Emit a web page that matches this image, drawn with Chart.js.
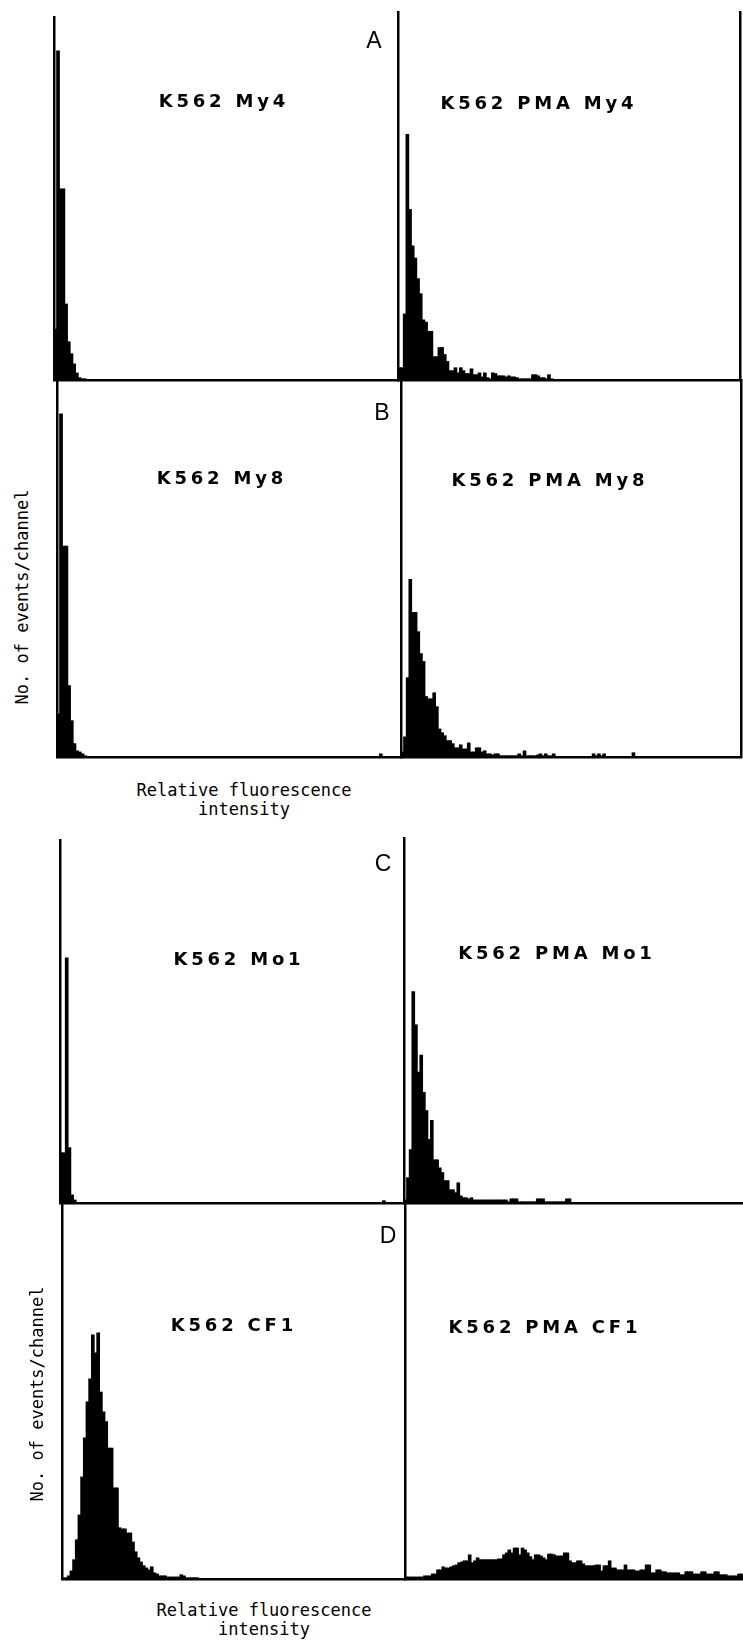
<!DOCTYPE html>
<html>
<head>
<meta charset="utf-8">
<script src="https://cdn.jsdelivr.net/npm/chart.js@4.4.1/dist/chart.umd.min.js"></script>
<style>
html,body{margin:0;padding:0;background:#fff;}
#fig{position:relative;width:743px;height:1646px;overflow:hidden;background:#fff;}
.panel{position:absolute;}
.lbl{position:absolute;white-space:nowrap;transform:translate(-50%,-50%);line-height:1;color:#000;z-index:5;}
.title{font-family:"DejaVu Sans",sans-serif;font-weight:bold;font-size:18px;letter-spacing:3.8px;padding-left:3.8px;}
.letter{font-family:"Liberation Sans",Arial,sans-serif;font-size:23px;}
.axis{font-family:"DejaVu Sans Mono",monospace;font-size:17px;text-align:center;line-height:19px;}
.ylab{font-family:"DejaVu Sans Mono",monospace;font-size:17px;transform:translate(-50%,-50%) rotate(-90deg);}
</style>
</head>
<body>
<div id="fig">
  <div class="panel" id="pA1"><canvas id="cA1"></canvas></div>
  <div class="panel" id="pA2"><canvas id="cA2"></canvas></div>
  <div class="panel" id="pB1"><canvas id="cB1"></canvas></div>
  <div class="panel" id="pB2"><canvas id="cB2"></canvas></div>
  <div class="panel" id="pC1"><canvas id="cC1"></canvas></div>
  <div class="panel" id="pC2"><canvas id="cC2"></canvas></div>
  <div class="panel" id="pD1"><canvas id="cD1"></canvas></div>
  <div class="panel" id="pD2"><canvas id="cD2"></canvas></div>

  <div class="lbl letter" style="left:374px;top:40px;">A</div>
  <div class="lbl letter" style="left:382px;top:412px;">B</div>
  <div class="lbl letter" style="left:383px;top:863px;">C</div>
  <div class="lbl letter" style="left:388px;top:1235px;">D</div>

  <div class="lbl title" style="left:222px;top:101px;">K562 My4</div>
  <div class="lbl title" style="left:537px;top:103px;">K562 PMA My4</div>
  <div class="lbl title" style="left:220px;top:478px;">K562 My8</div>
  <div class="lbl title" style="left:548px;top:480px;">K562 PMA My8</div>
  <div class="lbl title" style="left:237px;top:959px;">K562 Mo1</div>
  <div class="lbl title" style="left:555px;top:953px;">K562 PMA Mo1</div>
  <div class="lbl title" style="left:232px;top:1325px;">K562 CF1</div>
  <div class="lbl title" style="left:543px;top:1327px;">K562 PMA CF1</div>

  <div class="lbl ylab" style="left:22px;top:597px;">No. of events/channel</div>
  <div class="lbl ylab" style="left:37px;top:1394px;">No. of events/channel</div>
  <div class="lbl axis" style="left:244px;top:800px;">Relative fluorescence<br>intensity</div>
  <div class="lbl axis" style="left:264px;top:1620px;">Relative fluorescence<br>intensity</div>
</div>
<script>
// Channel numbers (x categories)
const channels = Array.from({length: 128}, (_, i) => i + 1);

// Events per channel, % of panel full scale
const k562_My4 = [
  14.0, 90.6, 52.6, 52.6, 20.9, 10.5, 7.2, 4.4, 1.9, 0.6, 0.3, 0.3, 0, 0, 0, 0,
  0,0,0,0,0,0,0,0,0,0,0,0,0,0,0,0,
  0,0,0,0,0,0,0,0,0,0,0,0,0,0,0,0,
  0,0,0,0,0,0,0,0,0,0,0,0,0,0,0,0,
  0,0,0,0,0,0,0,0,0,0,0,0,0,0,0,0,
  0,0,0,0,0,0,0,0,0,0,0,0,0,0,0,0,
  0,0,0,0,0,0,0,0,0,0,0,0,0,0,0,0,
  0,0,0,0,0,0,0,0,0,0,0,0,0,0,0,0
];
const pma_My4 = [
  3.3, 3.3, 17.9, 66.7, 46.3, 36.4, 33.1, 27.5, 23.4, 16.3, 15.7, 13.2, 13.2, 6.3, 6.3, 8.8,
  8.8, 6.9, 5.0, 2.5, 2.5, 3.3, 1.9, 3.3, 2.5, 1.7, 1.7, 3.0, 1.4, 1.4, 1.9, 0.8,
  1.9, 0.6, 0.3, 1.9, 1.7, 1.1, 1.1, 1.1, 0.8, 1.1, 0.8, 0.8, 0.6, 0.3, 0.3, 0.3,
  0.3, 0.3, 1.4, 1.4, 1.1, 0.6, 0.6, 0.3, 1.4, 0.3, 0, 0, 0, 0, 0, 0,
  0,0,0,0,0,0,0,0,0,0,0,0,0,0,0,0,
  0,0,0,0,0,0,0,0,0,0,0,0,0,0,0,0,
  0,0,0,0,0,0,0,0,0,0,0,0,0,0,0,0,
  0,0,0,0,0,0,0,0,0,0,0,0,0,0,0,0
];
const k562_My8 = [
  11.4, 91.0, 55.9, 55.9, 18.9, 9.6, 3.5, 1.6, 1.3, 0.8, 0.3, 0, 0, 0, 0, 0,
  0,0,0,0,0,0,0,0,0,0,0,0,0,0,0,0,
  0,0,0,0,0,0,0,0,0,0,0,0,0,0,0,0,
  0,0,0,0,0,0,0,0,0,0,0,0,0,0,0,0,
  0,0,0,0,0,0,0,0,0,0,0,0,0,0,0,0,
  0,0,0,0,0,0,0,0,0,0,0,0,0,0,0,0,
  0,0,0,0,0,0,0,0,0,0,0,0,0,0,0,0,
  0,0,0,0,0,0,0,0,0.8,0,0,0,0,0,0,0
];
const pma_My8 = [
  1.3, 5.3, 21.0, 47.1, 38.3, 38.3, 33.2, 27.4, 25.3, 16.0, 15.4, 15.4, 17.0, 13.3, 7.4, 6.4,
  5.6, 4.3, 4.3, 3.5, 2.4, 2.4, 3.2, 2.1, 2.1, 3.7, 1.3, 1.3, 2.4, 2.4, 1.3, 1.6,
  0.8, 0.8, 0.5, 0.8, 0.8, 0.3, 0.3, 0.3, 0.3, 0.3, 0.3, 0.3, 0.8, 0.3, 1.6, 0.3,
  0.3, 0.3, 0.3, 0.5, 0.8, 0.3, 0.8, 0.3, 0.3, 0.8, 0, 0, 0, 0, 0, 0,
  0, 0, 0, 0, 0, 0, 0, 0, 0.8, 0.3, 0.8, 0.3, 0.8, 0, 0, 0,
  0, 0, 0, 0, 0, 0, 0, 1.1, 0, 0, 0, 0, 0, 0, 0, 0,
  0,0,0,0,0,0,0,0,0,0,0,0,0,0,0,0,
  0,0,0,0,0,0,0,0,0,0,0,0,0,0,0,0
];
const k562_Mo1 = [
  13.8, 13.8, 67.5, 15.2, 2.2, 0.8, 0, 0, 0, 0, 0, 0, 0, 0, 0, 0,
  0,0,0,0,0,0,0,0,0,0,0,0,0,0,0,0,
  0,0,0,0,0,0,0,0,0,0,0,0,0,0,0,0,
  0,0,0,0,0,0,0,0,0,0,0,0,0,0,0,0,
  0,0,0,0,0,0,0,0,0,0,0,0,0,0,0,0,
  0,0,0,0,0,0,0,0,0,0,0,0,0,0,0,0,
  0,0,0,0,0,0,0,0,0,0,0,0,0,0,0,0,
  0,0,0,0,0,0,0,0,0.6,0,0,0,0,0,0,0
];
const pma_Mo1 = [
  0.8, 6.9, 14.6, 57.9, 48.8, 35.8, 40.5, 30.3, 25.3, 17.4, 22.6, 11.8, 11.8, 9.6, 8.3, 6.1,
  6.1, 3.6, 3.6, 2.8, 5.5, 1.9, 1.4, 1.4, 1.1, 1.4, 0.8, 0.8, 0.8, 0.8, 0.8, 0.8,
  0.8, 0.8, 0.8, 0.8, 0.8, 0.8, 0.8, 0.3, 1.1, 1.1, 1.1, 0.3, 0.3, 0.3, 0.3, 0.3,
  0.3, 0.3, 1.1, 1.1, 1.1, 0.3, 0.3, 0.3, 0.3, 0.3, 0.3, 0.3, 0.3, 1.1, 1.1, 0,
  0,0,0,0,0,0,0,0,0,0,0,0,0,0,0,0,
  0,0,0,0,0,0,0,0,0,0,0,0,0,0,0,0,
  0,0,0,0,0,0,0,0,0,0,0,0,0,0,0,0,
  0,0,0,0,0,0,0,0,0,0,0,0,0,0,0,0
];
const k562_CF1 = [
  0.3, 0.3, 0.8, 2.1, 5.1, 10.4, 17.0, 27.1, 37.5, 47.1, 53.2, 64.9, 60.1, 65.4, 49.7, 44.4,
  41.8, 34.8, 34.8, 24.2, 24.2, 13.6, 13.3, 13.3, 12.2, 12.2, 9.8, 7.2, 5.6, 4.5, 3.5, 2.9,
  2.4, 3.2, 1.6, 1.3, 0.8, 0.8, 0.8, 0.5, 0.5, 0.5, 0.5, 0.5, 1.1, 0.8, 0.3, 0.3,
  0.3, 0.3, 0.3, 0, 0, 0, 0, 0, 0, 0, 0, 0, 0, 0, 0, 0,
  0,0,0,0,0,0,0,0,0,0,0,0,0,0,0,0,
  0,0,0,0,0,0,0,0,0,0,0,0,0,0,0,0,
  0,0,0,0,0,0,0,0,0,0,0,0,0,0,0,0,
  0,0,0,0,0,0,0,0,0,0,0,0,0,0,0,0
];
const pma_CF1 = [
  0.5, 0.5, 0.5, 0.5, 0.5, 0.5, 0.5, 0.8, 0.8, 0.8, 1.3, 1.3, 2.4, 2.4, 3.2, 2.9,
  2.9, 3.2, 3.5, 3.7, 4.3, 4.5, 4.8, 4.8, 6.4, 4.3, 4.8, 5.6, 5.1, 5.1, 5.1, 5.1,
  5.1, 5.1, 5.1, 5.3, 5.3, 6.4, 6.9, 7.7, 6.9, 8.2, 8.2, 6.4, 8.2, 7.7, 6.9, 5.9,
  5.1, 6.4, 6.4, 6.1, 5.6, 5.1, 6.6, 6.6, 6.4, 6.1, 6.1, 6.1, 6.9, 6.9, 4.8, 4.3,
  4.3, 4.8, 4.8, 4.0, 3.5, 3.5, 3.5, 3.5, 3.7, 3.7, 2.1, 3.5, 3.5, 4.8, 2.9, 2.9,
  2.4, 2.4, 2.4, 3.7, 2.4, 2.4, 2.4, 2.1, 2.1, 2.4, 2.4, 3.7, 3.7, 1.6, 1.6, 2.4,
  2.4, 1.9, 1.9, 1.6, 1.6, 1.6, 1.6, 1.6, 1.1, 1.1, 1.9, 1.9, 1.9, 1.3, 1.3, 1.3,
  1.9, 1.9, 1.3, 1.3, 1.3, 1.9, 1.9, 1.1, 1.1, 1.1, 0.8, 0.8, 0.8, 0.8, 1.3, 1.3
];

// Layout: plot-area boxes [left, top, width, height] in page pixels
const PAD = 4;
const panels = [
  {id: 'A1', data: k562_My4, box: [54, 17, 344, 363], right: false},
  {id: 'A2', data: pma_My4,  box: [398, 12, 342, 368], right: true},
  {id: 'B1', data: k562_My8, box: [57, 380, 344, 377], right: false},
  {id: 'B2', data: pma_My8,  box: [401, 380, 340, 377], right: true},
  {id: 'C1', data: k562_Mo1, box: [60, 840, 344, 363], right: false},
  {id: 'C2', data: pma_Mo1,  box: [404, 838, 339, 365], right: false},
  {id: 'D1', data: k562_CF1, box: [62, 1203, 343, 376], right: false},
  {id: 'D2', data: pma_CF1,  box: [405, 1203, 338, 376], right: false}
];

function axisOpts(extra) {
  return Object.assign({
    display: true,
    ticks: {display: false},
    grid: {display: false, drawTicks: false},
    border: {display: true, color: '#000', width: 2.5}
  }, extra);
}

panels.forEach(p => {
  const wrap = document.getElementById('p' + p.id);
  const [l, t, w, h] = p.box;
  wrap.style.left = (l - PAD) + 'px';
  wrap.style.top = (t - PAD) + 'px';
  wrap.style.width = (w + 2 * PAD) + 'px';
  wrap.style.height = (h + 2 * PAD) + 'px';
  const scales = {
    x: axisOpts({type: 'category', position: 'bottom', offset: true}),
    y: axisOpts({type: 'linear', position: 'left', min: 0, max: 100})
  };
  if (p.right) {
    scales.r = axisOpts({type: 'linear', position: 'right', min: 0, max: 100});
  }
  new Chart(document.getElementById('c' + p.id), {
    type: 'bar',
    data: {
      labels: channels,
      datasets: [{
        data: p.data,
        backgroundColor: '#000',
        borderWidth: 0,
        barPercentage: 1,
        categoryPercentage: 1,
        inflateAmount: 0.5
      }]
    },
    options: {
      responsive: true,
      maintainAspectRatio: false,
      animation: false,
      events: [],
      layout: {padding: PAD},
      plugins: {legend: {display: false}, tooltip: {enabled: false}, title: {display: false}},
      scales: scales
    }
  });
});
</script>
</body>
</html>
